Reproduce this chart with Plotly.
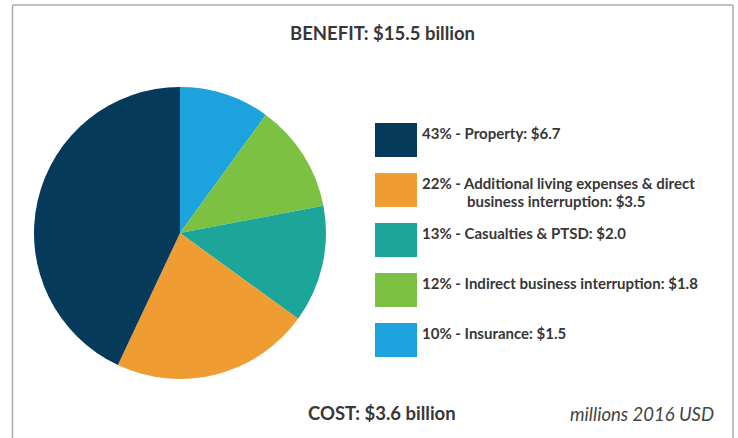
import plotly.graph_objects as go

W, H = 738, 438

categories = ["Property", "Additional living expenses & direct business interruption",
              "Casualties & PTSD", "Indirect business interruption", "Insurance"]
values = [6.7, 3.5, 2.0, 1.8, 1.5]
percents = [43, 22, 13, 12, 10]
legend_lines = [
    ["43% - Property: $6.7"],
    ["22% - Additional living expenses & direct", "business interruption: $3.5"],
    ["13% - Casualties & PTSD: $2.0"],
    ["12% - Indirect business interruption: $1.8"],
    ["10% - Insurance: $1.5"],
]
colors = ["#063a5b", "#ef9c33", "#1ca69a", "#7cc142", "#1ca3dd"]

FONT = "Lato"
TXT = "#373737"

def px(x):
    return x / W

def py(y):
    return 1 - y / H

fig = go.Figure()
# slices go counterclockwise from 12 o'clock in the reference: Property first
fig.add_trace(go.Pie(
    labels=categories[::-1], values=percents[::-1], customdata=values[::-1],
    sort=False, direction="clockwise",
    rotation=0, marker=dict(colors=colors[::-1], line=dict(width=0)),
    textinfo="none", hovertemplate="%{label}: $%{customdata}<extra>%{value}%</extra>",
    showlegend=False,
    domain=dict(x=[px(34), px(326)], y=[py(379), py(87)]),
))

shapes = []
annotations = []
# frame
for x0, y0, x1, y1 in [(12.5, 5, 12.5, 438), (12.5, 5, 733, 5), (733, 5, 733, 438)]:
    shapes.append(dict(type="line", xref="paper", yref="paper",
                       x0=px(x0), y0=py(y0), x1=px(x1), y1=py(y1),
                       line=dict(color="#ababab", width=1.5)))

# legend
for i, (c, lines) in enumerate(zip(colors, legend_lines)):
    top = 123 + 50 * i
    shapes.append(dict(type="rect", xref="paper", yref="paper",
                       x0=px(375), x1=px(417), y0=py(top + 34), y1=py(top),
                       fillcolor=c, line=dict(width=0)))
    annotations.append(dict(xref="paper", yref="paper", x=px(420), y=py(top + 10),
                            xanchor="left", yanchor="middle", showarrow=False,
                            text="<b>%s</b>" % lines[0],
                            font=dict(family=FONT, size=15, color=TXT)))
    if len(lines) > 1:
        annotations.append(dict(xref="paper", yref="paper", x=px(465), y=py(top + 28),
                                xanchor="left", yanchor="middle", showarrow=False,
                                text="<b>%s</b>" % lines[1],
                                font=dict(family=FONT, size=15, color=TXT)))

annotations.append(dict(xref="paper", yref="paper", x=px(382), y=py(33),
                        xanchor="center", yanchor="middle", showarrow=False,
                        text="<b>BENEFIT: $15.5 billion</b>",
                        font=dict(family=FONT, size=18.5, color=TXT)))
annotations.append(dict(xref="paper", yref="paper", x=px(382), y=py(413),
                        xanchor="center", yanchor="middle", showarrow=False,
                        text="<b>COST: $3.6 billion</b>",
                        font=dict(family=FONT, size=18.5, color=TXT)))
annotations.append(dict(xref="paper", yref="paper", x=px(716), y=py(414),
                        xanchor="right", yanchor="middle", showarrow=False,
                        text="<i>millions 2016 USD</i>",
                        font=dict(family=FONT, size=18.5, color="#444444")))

fig.update_layout(width=W, height=H, margin=dict(l=0, r=0, t=0, b=0),
                  paper_bgcolor="white", plot_bgcolor="white",
                  shapes=shapes, annotations=annotations, showlegend=False)

fig.write_html("out.html", config={"displayModeBar": False},
               post_script="document.body.style.margin='0';document.body.style.padding='0';")
